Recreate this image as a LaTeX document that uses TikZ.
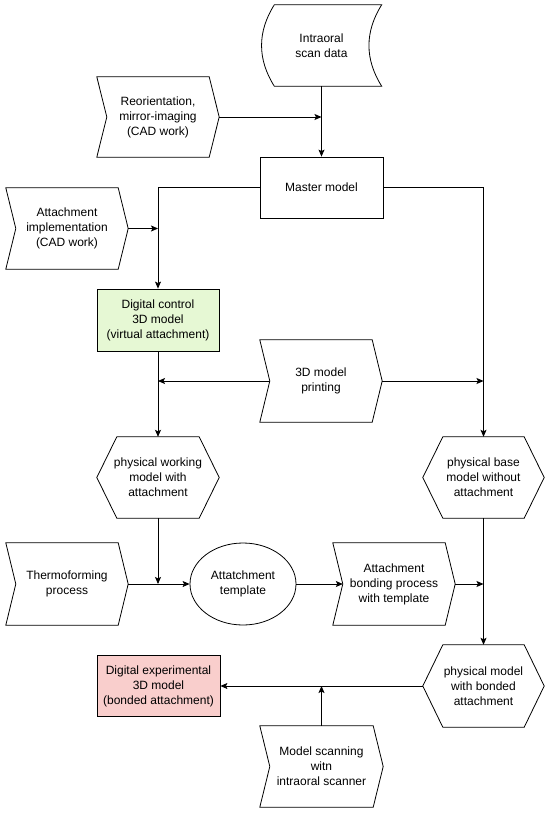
\documentclass[tikz,border=0pt]{standalone}
\usepackage{fontspec}
\setmainfont{Liberation Sans}
\usetikzlibrary{arrows.meta,calc,shapes.geometric}
\definecolor{ctrlgreen}{RGB}{230,248,212}
\definecolor{exppink}{RGB}{249,206,204}
\tikzset{
  base/.style={align=center, font=\fontsize{12pt}{15pt}\selectfont, inner sep=0pt},
  box/.style={base, rectangle, draw, line width=0.8pt},
  hidden/.style={base, rectangle},
  oval/.style={base, ellipse, draw, line width=0.8pt},
  conn/.style={line width=0.8pt, -{Stealth[length=7pt,width=6pt,inset=1.5pt]}},
  shapeline/.style={line width=0.8pt}
}
\newcommand\chevshape[1]{\draw[shapeline] (#1.north west) -- ([xshift=-10pt]#1.north east) -- (#1.east) -- ([xshift=-10pt]#1.south east) -- (#1.south west) -- ([xshift=10pt]#1.west) -- cycle;}
\newcommand\hexshape[1]{\draw[shapeline] (#1.west) -- ([xshift=20pt]#1.north west) -- ([xshift=-20pt]#1.north east) -- (#1.east) -- ([xshift=-20pt]#1.south east) -- ([xshift=20pt]#1.south west) -- cycle;}
\begin{document}
\begin{tikzpicture}[x=1pt,y=-1pt]
\useasboundingbox (0,0) rectangle (550,814);
% nodes
\node[hidden, minimum width=120pt, minimum height=81pt] (scan) at (321.5,45.5) {Intraoral\\scan data};
\node[hidden, minimum width=122pt, minimum height=80pt] (reori) at (158,117) {Reorientation,\\mirror-imaging\\(CAD work)};
\node[box, minimum width=123pt, minimum height=61pt] (master) at (321.5,187.5) {Master model};
\node[hidden, minimum width=122pt, minimum height=81pt] (attach) at (67,228.5) {Attachment\\implementation\\(CAD work)};
\node[box, fill=ctrlgreen, minimum width=122pt, minimum height=62pt] (digctrl) at (158,320) {Digital control\\3D model\\(virtual attachment)};
\node[hidden, minimum width=122pt, minimum height=82pt] (print) at (321,381) {3D model\\printing};
\node[hidden, minimum width=122pt, minimum height=81pt] (work) at (158,477.5) {physical working\\model with\\attachment};
\node[hidden, minimum width=121pt, minimum height=81pt] (basem) at (483.5,477.5) {physical base\\model without\\attachment};
\node[hidden, minimum width=122pt, minimum height=82pt] (thermo) at (67,584) {Thermoforming\\process};
\node[oval, minimum width=106pt, minimum height=82pt] (templ) at (243,584) {Attatchment\\template};
\node[hidden, minimum width=122pt, minimum height=82pt] (bond) at (394,584) {Attachment\\bonding process\\with template};
\node[hidden, minimum width=121pt, minimum height=82pt] (bonded) at (483.5,686) {physical model\\with bonded\\attachment};
\node[box, fill=exppink, minimum width=123pt, minimum height=61pt] (digexp) at (158.5,686) {Digital experimental\\3D model\\(bonded attachment)};
\node[hidden, minimum width=123pt, minimum height=81pt] (scan2) at (321.5,766.5) {Model scanning\\witn\\intraoral scanner};
% shapes
\draw[shapeline] ([xshift=13pt]scan.north west) -- (scan.north east)
  .. controls +(-17,27) and +(-17,-27) .. (scan.south east)
  -- ([xshift=13pt]scan.south west)
  .. controls +(-17,-27) and +(-17,27) .. ([xshift=13pt]scan.north west) -- cycle;
\chevshape{reori}
\chevshape{attach}
\chevshape{print}
\chevshape{thermo}
\chevshape{bond}
\chevshape{scan2}
\hexshape{work}
\hexshape{basem}
\hexshape{bonded}
% connectors
\draw[conn] (scan.south) -- (master.north);
\draw[conn] (reori.east) -- (reori.east -| master.north);
\draw[conn] (master.west) -| (digctrl.north);
\draw[conn] (attach.east) -- (attach.east -| digctrl.north);
\draw[conn] (master.east) -| (basem.north);
\draw[conn] (print.east) -- (print.east -| basem.north);
\draw[conn] ([xshift=10pt]print.west) -- (print.west -| digctrl.south);
\draw[conn] (digctrl.south) -- (work.north);
\draw[conn] (work.south) -- (work.south |- thermo.east);
\draw[conn] (thermo.east) -- (templ.west);
\draw[conn] (templ.east) -- ([xshift=10pt]bond.west);
\draw[conn] (bond.east) -- (bond.east -| basem.south);
\draw[conn] (basem.south) -- (bonded.north);
\draw[conn] (bonded.west) -- (digexp.east);
\draw[conn] (scan2.north) -- (scan2.north |- bonded.west);
\end{tikzpicture}
\end{document}
